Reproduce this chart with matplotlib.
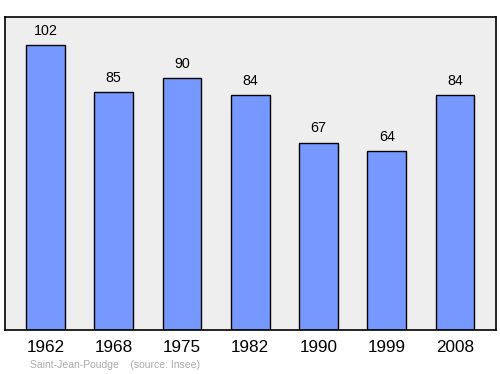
import numpy as np
import matplotlib.pyplot as plt

plt.rcParams['font.family'] = ['Liberation Sans', 'DejaVu Sans']

years = ['1962', '1968', '1975', '1982', '1990', '1999', '2008']
population = [102, 85, 90, 84, 67, 64, 84]

fig = plt.figure(figsize=(5, 3.74), dpi=100)
ax = fig.add_axes([0.01, 0.118, 0.982, 0.837])
ax.set_facecolor('#eeeeee')

x = np.arange(len(years))
ax.bar(x, population, width=0.57, color='#7799ff', edgecolor='black', linewidth=1)

for xi, v in zip(x, population):
    ax.text(xi, v + 2.6, str(v), ha='center', va='bottom', fontsize=10.3, color='black')

ax.set_xlim(-0.593, 6.6)
ax.set_ylim(0, 112)
ax.set_xticks(x)
ax.set_xticklabels(years, fontsize=12.3)
ax.tick_params(axis='x', length=0, pad=7)
ax.set_yticks([])
for s in ax.spines.values():
    s.set_linewidth(1.2)

fig.text(0.06, 0.015, 'Saint-Jean-Poudge    (source: Insee)', fontsize=7.5, color='#aaaaaa')

fig.savefig('out.png', dpi=100)
